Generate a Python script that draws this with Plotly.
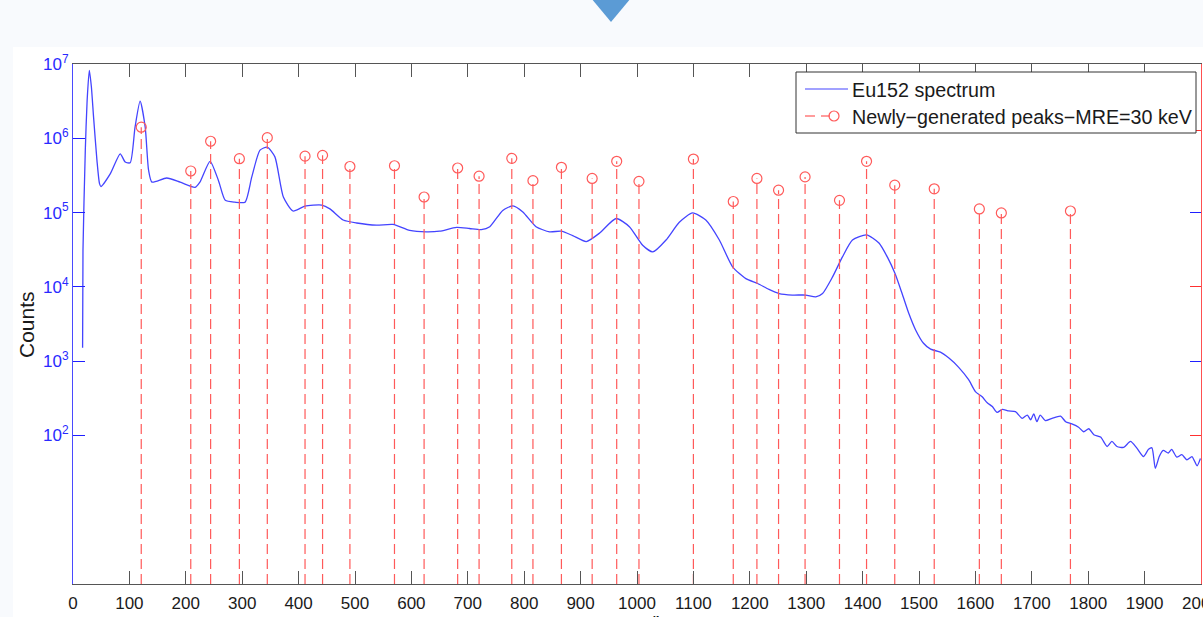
import plotly.graph_objects as go

# ---------------- data ----------------
energy_kev = [17, 17.7, 21.8, 25, 28.9, 32.5, 36.5, 42.5, 47, 49.6, 66, 83.7, 92.6, 101.4,
              110, 119, 128, 134, 140, 166, 190, 216.5, 225, 243, 258, 270, 287, 305, 317,
              331.6, 344.5, 358, 373, 390, 411, 441, 455.5, 479, 503, 538, 567.5, 597,
              626.6, 650, 680, 703, 724, 739, 762, 780, 797.6, 821, 845, 865.6, 886, 910,
              933, 963, 986.5, 1010, 1028, 1051.5, 1075, 1098.6, 1122, 1146, 1169.5, 1193,
              1214, 1234, 1252, 1275.6, 1299, 1317, 1329, 1346.5, 1364, 1382, 1407, 1429,
              1444, 1457.5, 1470, 1482, 1494, 1508, 1520.6, 1538, 1553, 1570, 1588, 1600,
              1612, 1621, 1630, 1638.5, 1647.5, 1659, 1671, 1683, 1692, 1698, 1703.5, 1709,
              1715, 1724, 1736, 1751, 1760, 1771, 1783, 1792, 1801, 1810, 1822, 1833.6,
              1842, 1851, 1863, 1875, 1886, 1898, 1907, 1913, 1919, 1926, 1933, 1942, 1948,
              1957, 1966, 1975, 1984, 1993, 1999]
counts = [1510, 30900, 692000, 3.16e6, 8.22e6, 5.01e6, 1.91e6, 5.01e5, 2.45e5, 2.24e5,
          3.31e5, 6.17e5, 4.79e5, 4.68e5, 1.41e6, 3.16e6, 1.41e6, 3.72e5, 2.57e5, 2.92e5,
          2.57e5, 2.19e5, 2.57e5, 4.90e5, 2.69e5, 1.46e5, 1.38e5, 1.38e5, 3.02e5, 6.92e5,
          7.59e5, 5.62e5, 1.62e5, 1.05e5, 1.22e5, 1.26e5, 1.12e5, 7.94e4, 7.24e4, 6.76e4,
          6.92e4, 5.75e4, 5.50e4, 5.62e4, 6.31e4, 6.10e4, 5.89e4, 6.46e4, 1.07e5, 1.23e5,
          1.02e5, 6.46e4, 5.50e4, 5.62e4, 4.90e4, 4.07e4, 5.25e4, 8.32e4, 6.46e4, 3.63e4,
          2.95e4, 4.27e4, 7.41e4, 9.89e4, 7.94e4, 4.27e4, 1.86e4, 1.29e4, 1.11e4, 9230,
          8130, 7760, 7760, 7330, 8130, 13500, 25100, 42700, 50100, 38900, 25100, 15100,
          8130, 4370, 2630, 1740, 1450, 1320, 1100, 832, 562, 389, 331, 275, 245, 204, 224,
          214, 209, 170, 188, 162, 195, 153, 188, 158, 170, 182, 153, 143, 129, 112, 123,
          102, 95, 71, 83, 71, 69, 83, 68, 52, 65, 68, 36, 52, 63, 58, 65, 51, 55, 47, 52,
          39, 49]

peak_energy_kev = [121, 208.8, 244, 295, 344.5, 411.4, 442.5, 491, 570, 622.5, 682, 720,
                   778, 815.5, 866, 920.5, 964, 1003.5, 1100, 1170.7, 1212.6, 1251, 1298,
                   1359, 1407, 1457, 1527, 1607, 1646, 1768.5]
peak_counts = [1.41e6, 3.63e5, 9.12e5, 5.31e5, 1.02e6, 5.75e5, 5.89e5, 4.17e5, 4.27e5,
               1.62e5, 3.98e5, 3.09e5, 5.37e5, 2.69e5, 4.07e5, 2.88e5, 4.90e5, 2.63e5,
               5.25e5, 1.41e5, 2.88e5, 2.00e5, 3.02e5, 1.46e5, 4.90e5, 2.34e5, 2.09e5,
               1.12e5, 9.89e4, 1.05e5]
stem_base = 1

x_tick_values = list(range(0, 2001, 100))
y_tick_values = [1e2, 1e3, 1e4, 1e5, 1e6, 1e7]
y_tick_text = ["10<sup>2</sup>", "10<sup>3</sup>", "10<sup>4</sup>",
               "10<sup>5</sup>", "10<sup>6</sup>", "10<sup>7</sup>"]
right_red_ticks = [2.0, 4.0, 6.1]
right_blue_ticks = [3.0, 5.0]

series_names = ["Eu152 spectrum", "Newly\u2212generated peaks\u2212MRE=30 keV"]
x_title = "Energy/keV"
y_title = "Counts"

# ---------------- layout geometry ----------------
W, H = 1203, 617
L, R, T, B = 73, 2, 64, 33
PW = W - L - R
PH = H - T - B


def px(x):
    return (x - L) / PW


def py(y):
    return (H - B - y) / PH


FONT = "Liberation Sans, Arial, Helvetica, sans-serif"
BLUE = "#4444ff"
RED = "#ff5a5a"

fig = go.Figure()

fig.add_trace(go.Scatter(
    x=energy_kev, y=counts, mode="lines",
    line=dict(color=BLUE, width=1.3, shape="spline", smoothing=0.6),
    showlegend=False, hoverinfo="skip"))

stem_x, stem_y = [], []
for e, c in zip(peak_energy_kev, peak_counts):
    stem_x += [e, e, None]
    stem_y += [stem_base, c, None]
fig.add_trace(go.Scatter(
    x=stem_x, y=stem_y, mode="lines",
    line=dict(color=RED, width=1.2, dash="10px,5px"),
    showlegend=False, hoverinfo="skip"))
fig.add_trace(go.Scatter(
    x=peak_energy_kev, y=peak_counts, mode="markers",
    marker=dict(symbol="circle-open", size=10, color=RED, line=dict(width=1.2, color=RED)),
    showlegend=False, hoverinfo="skip"))

# dummy traces to host the right-hand axes
fig.add_trace(go.Scatter(x=[None], y=[None], yaxis="y2", showlegend=False))
fig.add_trace(go.Scatter(x=[None], y=[None], yaxis="y3", showlegend=False))

fig.update_layout(
    width=W, height=H,
    margin=dict(l=L, r=R, t=T, b=B, pad=0, autoexpand=False),
    paper_bgcolor="#f8fafd",
    plot_bgcolor="white",
    showlegend=False,
    font=dict(family=FONT, color="#1a1a1a"),
    xaxis=dict(
        range=[0, 2000], tickvals=x_tick_values, ticks="inside", ticklen=13,
        tickcolor="#555", linecolor="#555", linewidth=1, showline=True, mirror="ticks",
        showgrid=False, zeroline=False, tickfont=dict(size=17, color="#1a1a1a"),
        ticklabelstandoff=4, ticklabeloverflow="allow", automargin=False,
    ),
    yaxis=dict(
        type="log", range=[0, 7], tickvals=y_tick_values, ticktext=y_tick_text,
        ticks="inside", ticklen=12, tickcolor="#1f1fff", linecolor="#4a4aff",
        showline=True, showgrid=False, zeroline=False, automargin=False,
        tickfont=dict(size=17, color="#2a2aff"),
    ),
    yaxis2=dict(
        overlaying="y", side="right", anchor="x", range=[0, 7], tickvals=right_red_ticks,
        ticks="inside", ticklen=11, tickcolor="#ff3030", showline=True, linecolor="#ff5050",
        showticklabels=False, showgrid=False, zeroline=False, automargin=False,
    ),
    yaxis3=dict(
        overlaying="y", side="right", anchor="x", range=[0, 7], tickvals=right_blue_ticks,
        ticks="inside", ticklen=11, tickcolor="#1f1fff", showline=False,
        showticklabels=False, showgrid=False, zeroline=False, automargin=False,
    ),
)

shapes = [
    # white figure panel on the light slide background
    dict(type="rect", xref="paper", yref="paper", x0=px(13), x1=px(1215), y0=py(630),
         y1=py(47), fillcolor="white", line=dict(width=0), layer="below"),
    # slide arrow
    dict(type="path", xref="paper", yref="paper",
         path=f"M {px(591)},{py(-2)} L {px(631)},{py(-2)} L {px(611)},{py(22)} Z",
         fillcolor="#5b9bd5", line=dict(width=0)),
    # legend box
    dict(type="rect", xref="paper", yref="paper", x0=px(796), x1=px(1196), y0=py(133),
         y1=py(72), fillcolor="white", line=dict(color="#333", width=1)),
    dict(type="line", xref="paper", yref="paper", x0=px(805), x1=px(848), y0=py(89),
         y1=py(89), line=dict(color=BLUE, width=1.2)),
    dict(type="line", xref="paper", yref="paper", x0=px(805), x1=px(815), y0=py(116),
         y1=py(116), line=dict(color=RED, width=1.2)),
    dict(type="line", xref="paper", yref="paper", x0=px(821), x1=px(830), y0=py(116),
         y1=py(116), line=dict(color=RED, width=1.2)),
    dict(type="circle", xref="paper", yref="paper", x0=px(829), x1=px(839), y0=py(121),
         y1=py(111), line=dict(color=RED, width=1.2)),
]
fig.update_layout(shapes=shapes)

annotations = [
    dict(text=series_names[0], xref="paper", yref="paper", x=px(850), y=py(90),
         xanchor="left", yanchor="middle", showarrow=False,
         font=dict(size=19.7, color="#1a1a1a", family=FONT)),
    dict(text=series_names[1], xref="paper", yref="paper", x=px(850), y=py(117),
         xanchor="left", yanchor="middle", showarrow=False,
         font=dict(size=19.7, color="#1a1a1a", family=FONT)),
    dict(text=y_title, xref="paper", yref="paper", x=px(26), y=py(325), textangle=-90,
         xanchor="center", yanchor="middle", showarrow=False,
         font=dict(size=21, color="#1a1a1a", family=FONT)),
    dict(text=x_title, xref="paper", yref="paper", x=px(637), y=py(623),
         xanchor="center", yanchor="middle", showarrow=False,
         font=dict(size=21, color="#1a1a1a", family=FONT)),
]
fig.update_layout(annotations=annotations)

fig.write_html("out.html")
